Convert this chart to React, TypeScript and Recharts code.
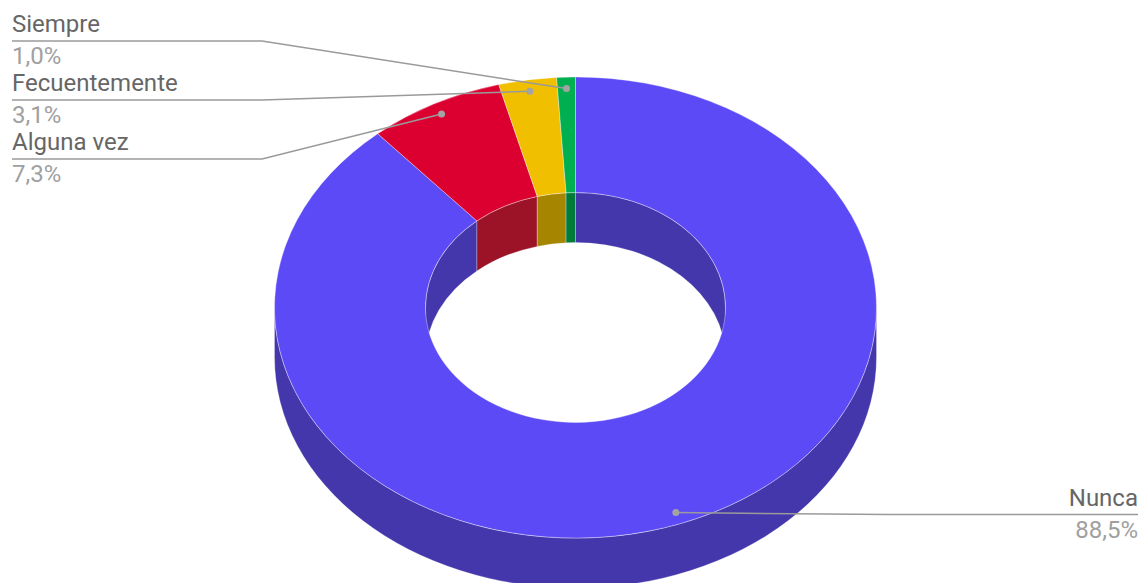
import React from 'react';
import { PieChart, Pie } from 'recharts';

// ---- data ----
const categories = ['Nunca', 'Alguna vez', 'Fecuentemente', 'Siempre'];
const values = [88.5, 7.3, 3.1, 1.0];
const percentLabels = ['88,5%', '7,3%', '3,1%', '1,0%'];
const topColors = ['#5c4af6', '#dc0031', '#f0bf00', '#00af50'];
const sideColors = ['#4437ab', '#9c1226', '#a68500', '#007b3a'];

const data = categories.map((name, i) => ({ name, value: values[i], idx: i }));

// ---- layout ----
const W = 1142;
const H = 583;
const CX = 575.5;
const CY = 307.5;
const R_OUT = 301;
const R_IN = 150;
const TILT = 0.766;
const DEPTH = 50;
const ANCHOR_R = 0.95;
const LABEL_SPACING = 59;
const LABEL_Y_OFFSET = 2;
const LEFT_X = 12;
const RIGHT_X = 1138;
const ELBOW = 250;
const START = 90;
const END = -270;
const FONT_SIZE = 24;

const rad = (a: number) => (a * Math.PI) / 180;
const pt = (cx: number, cy: number, r: number, a: number, dy = 0): [number, number] => [
  cx + r * Math.cos(rad(a)),
  cy - r * TILT * Math.sin(rad(a)) + dy,
];

function topPath(cx: number, cy: number, ri: number, ro: number, sa: number, ea: number) {
  const large = Math.abs(sa - ea) > 180 ? 1 : 0;
  const sweep = sa > ea ? 1 : 0;
  const [x1, y1] = pt(cx, cy, ro, sa);
  const [x2, y2] = pt(cx, cy, ro, ea);
  const [x3, y3] = pt(cx, cy, ri, ea);
  const [x4, y4] = pt(cx, cy, ri, sa);
  return `M${x1},${y1} A${ro},${ro * TILT} 0 ${large} ${sweep} ${x2},${y2} L${x3},${y3} A${ri},${ri * TILT} 0 ${large} ${1 - sweep} ${x4},${y4} Z`;
}

function wallPath(cx: number, cy: number, r: number, lo: number, hi: number) {
  const large = hi - lo > 180 ? 1 : 0;
  const [x1, y1] = pt(cx, cy, r, hi);
  const [x2, y2] = pt(cx, cy, r, lo);
  return `M${x1},${y1} A${r},${r * TILT} 0 ${large} 1 ${x2},${y2} L${x2},${y2 + DEPTH} A${r},${r * TILT} 0 ${large} 0 ${x1},${y1 + DEPTH} Z`;
}

function intersect(lo: number, hi: number, wLo: number, wHi: number) {
  const res: [number, number][] = [];
  for (let n = -3; n <= 3; n++) {
    const a = Math.max(lo, wLo + 360 * n);
    const b = Math.min(hi, wHi + 360 * n);
    if (b - a > 1e-6) res.push([a, b]);
  }
  return res;
}

// label slots (text layout), derived from the data's slice mid angles
function computeLabelSlots() {
  const total = values.reduce((s, v) => s + v, 0);
  let a = START;
  const items = values.map((v, i) => {
    const span = ((END - START) * v) / total;
    const mid = a + span / 2;
    a += span;
    const [x, y] = pt(CX, CY, R_OUT * ANCHOR_R, mid);
    return { i, x, y, left: x < CX };
  });
  const slots: number[] = new Array(values.length).fill(0);
  [true, false].forEach((side) => {
    const group = items.filter((it) => it.left === side).sort((p, q) => p.y - q.y);
    let clusters = group.map((g) => ({ members: [g], top: g.y }));
    let changed = true;
    while (changed) {
      changed = false;
      for (let k = 0; k < clusters.length - 1; k++) {
        const c1 = clusters[k];
        const c2 = clusters[k + 1];
        if (c1.top + c1.members.length * LABEL_SPACING > c2.top) {
          const members = [...c1.members, ...c2.members];
          const mean = members.reduce((s, m) => s + m.y, 0) / members.length;
          const top = mean - ((members.length - 1) * LABEL_SPACING) / 2;
          clusters.splice(k, 2, { members, top });
          changed = true;
          break;
        }
      }
    }
    clusters.forEach((c) => c.members.forEach((m, j) => (slots[m.i] = c.top + j * LABEL_SPACING + LABEL_Y_OFFSET)));
  });
  return slots;
}
const labelSlots = computeLabelSlots();

const renderWalls = (p: any) => {
  const i = p.index;
  const lo = Math.min(p.startAngle, p.endAngle);
  const hi = Math.max(p.startAngle, p.endAngle);
  const outer = intersect(lo, hi, 180, 360);
  const inner = intersect(lo, hi, 0, 180);
  return (
    <g>
      {inner.map(([a, b], k) => (
        <path key={'i' + k} d={wallPath(p.cx, p.cy, p.innerRadius, a, b)} fill={sideColors[i]} stroke="#ffffff" strokeOpacity={0.35} strokeWidth={0.8} />
      ))}
      {outer.map(([a, b], k) => (
        <path key={'o' + k} d={wallPath(p.cx, p.cy, p.outerRadius, a, b)} fill={sideColors[i]} stroke="#ffffff" strokeOpacity={0.35} strokeWidth={0.8} />
      ))}
    </g>
  );
};

const renderTops = (p: any) => {
  const i = p.index;
  return (
    <path
      d={topPath(p.cx, p.cy, p.innerRadius, p.outerRadius, p.startAngle, p.endAngle)}
      fill={topColors[i]}
      stroke="#ffffff"
      strokeOpacity={0.45}
      strokeWidth={0.8}
    />
  );
};

const renderLabels = (p: any) => {
  const i = p.index;
  const [ax, ay] = pt(p.cx, p.cy, p.outerRadius * ANCHOR_R, p.midAngle);
  const left = ax < p.cx;
  const slot = labelSlots[i];
  const tx = left ? LEFT_X : RIGHT_X;
  const ex = left ? LEFT_X + ELBOW : RIGHT_X - ELBOW;
  return (
    <g>
      <path d={`M${tx},${slot} L${ex},${slot} L${ax},${ay}`} fill="none" stroke="#9a9a9a" strokeWidth={1.5} />
      <circle cx={ax} cy={ay} r={3.5} fill="#a3a3a3" />
      <text x={tx} y={slot - 8.5} textAnchor={left ? 'start' : 'end'} fontFamily="Roboto" fontSize={FONT_SIZE} fill="#666666">
        {p.name}
      </text>
      <text x={tx} y={slot + 23.5} textAnchor={left ? 'start' : 'end'} fontFamily="Roboto" fontSize={FONT_SIZE} fill="#a0a0a0">
        {percentLabels[i]}
      </text>
    </g>
  );
};

export default function App() {
  return (
    <div style={{ position: 'absolute', left: 0, top: 0, width: W, height: H, background: '#ffffff' }}>
      <PieChart width={W} height={H} margin={{ top: 0, right: 0, bottom: 0, left: 0 }}>
        <Pie
          data={data}
          dataKey="value"
          nameKey="name"
          cx={CX}
          cy={CY}
          innerRadius={R_IN}
          outerRadius={R_OUT}
          startAngle={START}
          endAngle={END}
          fill="none"
          stroke="none"
          label={renderWalls}
          labelLine={false}
          isAnimationActive={false}
        />
        <Pie
          data={data}
          dataKey="value"
          nameKey="name"
          cx={CX}
          cy={CY}
          innerRadius={R_IN}
          outerRadius={R_OUT}
          startAngle={START}
          endAngle={END}
          fill="none"
          stroke="none"
          label={renderTops}
          labelLine={false}
          isAnimationActive={false}
        />
        <Pie
          data={data}
          dataKey="value"
          nameKey="name"
          cx={CX}
          cy={CY}
          innerRadius={R_IN}
          outerRadius={R_OUT}
          startAngle={START}
          endAngle={END}
          fill="none"
          stroke="none"
          label={renderLabels}
          labelLine={false}
          isAnimationActive={false}
        />
      </PieChart>
    </div>
  );
}
